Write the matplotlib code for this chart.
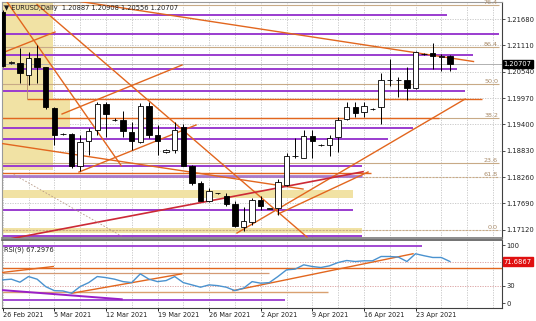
import matplotlib
matplotlib.use("Agg")
import matplotlib.pyplot as plt
import numpy as np

# ── Price data (EURUSD daily, Sunday bars included) ───────────────────────────
opens = [1.2183, 1.2073, 1.20736, 1.2047, 1.20844, 1.20636, 1.1975, 1.1920, 1.19195, 1.18503,
         1.19029, 1.19281, 1.19837, 1.1950, 1.19497, 1.19245, 1.19016, 1.1980, 1.19173, 1.1880,
         1.18849, 1.19353, 1.18488, 1.1813, 1.17747, 1.1791, 1.1784, 1.17682, 1.1717, 1.17287,
         1.17769, 1.1757, 1.17596, 1.18093, 1.18715, 1.1868, 1.19153, 1.18953, 1.18953, 1.19136,
         1.19509, 1.19782, 1.19673, 1.1973, 1.19769, 1.2036, 1.2035, 1.2036, 1.2018, 1.2093,
         1.20951, 1.20851, 1.20887]
highs = [1.21874, 1.2077, 1.21053, 1.20973, 1.21118, 1.20649, 1.19772, 1.1921, 1.19223, 1.19173,
         1.19325, 1.19893, 1.19893, 1.1953, 1.19698, 1.19461, 1.19858, 1.19893, 1.19389, 1.1887,
         1.19461, 1.19404, 1.1851, 1.18164, 1.18021, 1.1792, 1.17913, 1.17747, 1.17602, 1.17805,
         1.1784, 1.1758, 1.18222, 1.1878, 1.1910, 1.19283, 1.19283, 1.1897, 1.19169, 1.19552,
         1.1989, 1.1989, 1.1989, 1.1975, 1.20505, 1.2081, 1.2043, 1.20648, 1.20994, 1.2094,
         1.21167, 1.20922, 1.20908]
lows = [1.20643, 1.2071, 1.20297, 1.20254, 1.20297, 1.19735, 1.18957, 1.1918, 1.1846, 1.1838,
        1.18741, 1.19173, 1.19137, 1.1947, 1.19124, 1.18849, 1.18994, 1.19102, 1.18741, 1.1878,
        1.18778, 1.18488, 1.18093, 1.17732, 1.17719, 1.1790, 1.17624, 1.1717, 1.17084, 1.17228,
        1.17552, 1.1756, 1.17444, 1.18072, 1.18669, 1.18669, 1.18669, 1.1894, 1.18715, 1.18808,
        1.19494, 1.19552, 1.19552, 1.1971, 1.19407, 1.2022, 1.2000, 1.19927, 1.20158, 1.2091,
        1.20591, 1.20561, 1.20556]
closes = [1.20664, 1.2075, 1.20507, 1.20844, 1.20636, 1.19772, 1.19173, 1.1919, 1.18488, 1.19022,
          1.19266, 1.19837, 1.19627, 1.1950, 1.1926, 1.19029, 1.1980, 1.19173, 1.19044, 1.1885,
          1.19281, 1.18503, 1.1813, 1.17747, 1.17948, 1.1792, 1.17682, 1.17192, 1.1730, 1.17769,
          1.17624, 1.1758, 1.18158, 1.18715, 1.18725, 1.19153, 1.19045, 1.1896, 1.19098, 1.19494,
          1.19782, 1.19652, 1.19797, 1.1974, 1.2036, 1.2035, 1.2036, 1.2018, 1.20972, 1.2092,
          1.20879, 1.20879, 1.20707]
rsi_values = [40.2, 41.4, 36.2, 45.9, 41.4, 28.6, 21.7, 21.2, 17.2, 28.6,
              35.5, 45.9, 44.1, 41.4, 37.2, 35.5, 50.5, 41.4, 37.2, 39.0,
              45.9, 35.5, 31.6, 27.6, 31.6, 30.3, 27.6, 21.7, 25.9, 37.2,
              34.5, 35.5, 45.9, 57.4, 58.6, 66.0, 63.1, 61.4, 64.3, 70.0,
              73.4, 71.7, 72.9, 72.9, 80.3, 80.3, 79.3, 71.7, 85.0, 81.6,
              78.6, 78.6, 71.7]

date_labels = ["26 Feb 2021", "5 Mar 2021", "12 Mar 2021", "19 Mar 2021", "26 Mar 2021",
               "2 Apr 2021", "9 Apr 2021", "16 Apr 2021", "23 Apr 2021"]
date_bars = [0, 6, 12, 18, 24, 30, 36, 42, 48]
price_ticks = [1.21680, 1.21110, 1.20540, 1.19970, 1.19400, 1.18830, 1.18260, 1.17690, 1.17120]
rsi_ticks = [100, 30, 0]

# ── Drawn objects (bar index / price) ─────────────────────────────────────────
purple_levels = [1.21767, 1.21349, 1.20901, 1.20598, 1.20128, 1.19327, 1.19076,
                 1.18498, 1.17546, 1.16983]
purple_ends = [51.7, 57.7, 54.7, 52.8, 53.8, 47.7, 44.8, 41.8, 40.7, 41.8]
lavender_level = 1.18275
lavender_end = 41.8

orange_levels = [1.19942, 1.19531, 1.18353]
orange_starts = [2.79, -0.1, -0.1]
orange_ends = [55.7, 50.7, 42.8]

fib_levels = [1.21994, 1.21074, 1.20273, 1.19531, 1.18570, 1.18267, 1.17124]
fib_labels = ["76.4", "86.4", "50.0", "38.2", "23.6", "61.8", "0.0"]

trend_x0 = [9.0, 0.49, 3.99, -0.08, 6.9, -0.08, 8.87, 27.24, 32.01]
trend_p0 = [1.22059, 1.22054, 1.21994, 1.20944, 1.19624, 1.18985, 1.18368, 1.17048, 1.17459]
trend_x1 = [54.74, 13.79, 35.38, 6.08, 20.85, 34.92, 22.48, 53.76, 42.48]
trend_p1 = [1.20760, 1.18503, 1.16961, 1.21399, 1.20684, 1.18000, 1.19386, 1.19948, 1.18369]

red_trend_x = [1.08, 41.9]
red_trend_p = [1.16929, 1.18375]
dotted_trend_x = [1.28, 13.8]
dotted_trend_p = [1.18316, 1.16983]

zone_x0 = [-0.1, 5.88, -0.1, -0.1]
zone_x1 = [5.85, 7.83, 40.73, 41.78]
zone_top = [1.22048, 1.19935, 1.17979, 1.17150]
zone_bottom = [1.18412, 1.19349, 1.17799, 1.17054]

bid_price = 1.20707

# RSI panel objects
rsi_purple_level, rsi_purple_end = 97.6, 48.8
rsi_orange_level = 61.4
rsi_tan_level, rsi_tan_end = 51.7, 31.0
rsi_low_orange_level, rsi_low_orange_end = 18.6, 37.8
rsi_low_purple_level, rsi_low_purple_end = 5.7, 32.8
rsi_levels = [70, 30]
rsi_trend_x0 = [-0.12, 8.02, 26.78]
rsi_trend_r0 = [52.8, 17.2, 21.7]
rsi_trend_x1 = [5.88, 20.81, 47.71]
rsi_trend_r1 = [63.1, 50.5, 85.0]
rsi_div_x = [-0.3, 13.84]
rsi_div_r = [22.9, 6.9]
rsi_last = 71.6867

# ── Styles ────────────────────────────────────────────────────────────────────
PURPLE = "#9a3ccf"
ORANGE = "#e2661e"
TAN = "#c8aa86"
YELLOW = "#f1e2a4"
GRID = "#c4c4c4"
TXT = "#202020"

W, H = 536, 321
fig = plt.figure(figsize=(W / 100, H / 100), dpi=100)
ax = fig.add_axes([2 / W, 83.5 / H, 499.7 / W, 236 / H])
rax = fig.add_axes([2 / W, 13 / H, 499.7 / W, 68 / H], sharex=ax)

xlim = (-0.0814, 58.02)
ax.set_xlim(*xlim)
ax.set_ylim(1.16951, 1.22059)
rax.set_ylim(-8.06, 108.6)

# grid
for gx in np.arange(0, 59, 3):
    for a in (ax, rax):
        a.axvline(gx, color=GRID, lw=0.6, ls=(0, (1.5, 1.5)), zorder=0)
for p in price_ticks:
    ax.axhline(p, color=GRID, lw=0.6, ls=(0, (1.5, 1.5)), zorder=0)

# zones
for x0, x1, t, b in zip(zone_x0, zone_x1, zone_top, zone_bottom):
    ax.fill_between([x0, x1], b, t, color=YELLOW, lw=0, zorder=0.5)

# fibo levels
for lvl, lab in zip(fib_levels, fib_labels):
    ls = (0, (2, 1)) if lab in ("0.0", "61.8") else "-"
    ax.hlines(lvl, xlim[0], 57.7, color=TAN, lw=0.8, ls=ls, zorder=1)
    ax.text(57.6, lvl, lab, ha="right", va="bottom", fontsize=4.6, color="#a88a68", zorder=6)

# bid line
ax.axhline(bid_price, color="#b0b0b0", lw=0.7, zorder=1)

# horizontal levels
ax.hlines(purple_levels, xlim[0], purple_ends, color=PURPLE, lw=1.4, zorder=2)
ax.hlines(lavender_level, xlim[0], lavender_end, color="#a879cc", lw=2.0, zorder=2)
ax.hlines(orange_levels, orange_starts, orange_ends, color=ORANGE, lw=1.0, zorder=2)
ax.vlines(orange_starts[0], orange_levels[0], 1.2047, color="#b08a6a", lw=0.6, zorder=2)

# trend lines
for x0, p0, x1, p1 in zip(trend_x0, trend_p0, trend_x1, trend_p1):
    ax.plot([x0, x1], [p0, p1], color=ORANGE, lw=1.0, zorder=3, clip_on=True)
ax.plot(red_trend_x, red_trend_p, color="#cc2a36", lw=1.2, zorder=3)
ax.plot(dotted_trend_x, dotted_trend_p, color="#b89a88", lw=0.6, ls=(0, (2, 2)), zorder=3)

# candles
x = np.arange(len(opens))
o, h, l, c = (np.array(v) for v in (opens, highs, lows, closes))
up = c >= o
ax.vlines(x, l, h, color="black", lw=0.7, zorder=4)
ax.bar(x, np.maximum(np.abs(c - o), 0.00003), bottom=np.minimum(o, c), width=0.62,
       color=np.where(up, "white", "black"), edgecolor="black", linewidth=0.6, zorder=5)

# ── RSI panel ────────────────────────────────────────────────────────────────
for lv in rsi_levels:
    rax.axhline(lv, color="#d89a9a", lw=0.6, ls=(0, (1.5, 1.5)), zorder=1)
rax.hlines(rsi_purple_level, xlim[0], rsi_purple_end, color=PURPLE, lw=1.3, zorder=2)
rax.axhline(rsi_orange_level, color=ORANGE, lw=1.0, zorder=2)
rax.hlines(rsi_tan_level, xlim[0], rsi_tan_end, color="#d49a74", lw=0.9, zorder=2)
rax.hlines(rsi_low_orange_level, xlim[0], rsi_low_orange_end, color="#d9a070", lw=1.0, zorder=2)
rax.hlines(rsi_low_purple_level, xlim[0], rsi_low_purple_end, color=PURPLE, lw=1.3, zorder=2)
for x0, r0, x1, r1 in zip(rsi_trend_x0, rsi_trend_r0, rsi_trend_x1, rsi_trend_r1):
    rax.plot([x0, x1], [r0, r1], color=ORANGE, lw=1.0, zorder=3)
rax.plot(rsi_div_x, rsi_div_r, color="#9a1fc8", lw=1.4, zorder=3)
rax.plot(x, rsi_values, color="#4a92cf", lw=1.0, zorder=4)

# ── Axes styling ──────────────────────────────────────────────────────────────
for a in (ax, rax):
    a.yaxis.tick_right()
    a.tick_params(axis="y", length=2, width=0.6, pad=1.5, labelsize=4.9,
                  colors="#303030", labelcolor=TXT)
    for s in ("left", "top"):
        a.spines[s].set_color("#9a9a9a")
        a.spines[s].set_linewidth(0.8)
    a.spines["right"].set_color("#404040")
    a.spines["right"].set_linewidth(0.8)
ax.spines["bottom"].set_color("#7a7a7a")
ax.spines["bottom"].set_linewidth(1.2)
rax.spines["top"].set_color("#5a5a5a")
rax.spines["top"].set_linewidth(1.2)
rax.spines["bottom"].set_color("#404040")
rax.spines["bottom"].set_linewidth(0.8)
rax.spines["bottom"].set_linestyle((0, (2, 1)))

ax.set_yticks(price_ticks)
ax.set_yticklabels([f"{p:.5f}" for p in price_ticks])
rax.set_yticks(rsi_ticks)
rax.set_yticklabels([str(t) for t in rsi_ticks])
ax.tick_params(axis="x", bottom=False, labelbottom=False)
rax.set_xticks(date_bars)
rax.set_xticklabels(date_labels, ha="left")
rax.tick_params(axis="x", length=2, width=0.6, pad=1.2, labelsize=4.7, labelcolor=TXT)

# current value boxes
ax.text(1.004, bid_price, f"{bid_price:.5f}", transform=ax.get_yaxis_transform(),
        ha="left", va="center", fontsize=4.9, color="white",
        bbox=dict(boxstyle="square,pad=0.15", fc="black", ec="black"))
rax.text(1.004, rsi_last, f"{rsi_last:.4f}", transform=rax.get_yaxis_transform(),
         ha="left", va="center", fontsize=4.9, color="white",
         bbox=dict(boxstyle="square,pad=0.15", fc="#e01010", ec="#e01010"))

# headers
ax.text(0.004, 0.985, "\u25bc EURUSD,Daily  1.20887 1.20908 1.20556 1.20707",
        transform=ax.transAxes, ha="left", va="top", fontsize=4.8, color=TXT, zorder=7)
rax.text(0.004, 0.90, "RSI(9) 67.2976", transform=rax.transAxes,
         ha="left", va="top", fontsize=4.8, color=TXT, zorder=7)

fig.savefig("out.png", dpi=100, facecolor="white")
